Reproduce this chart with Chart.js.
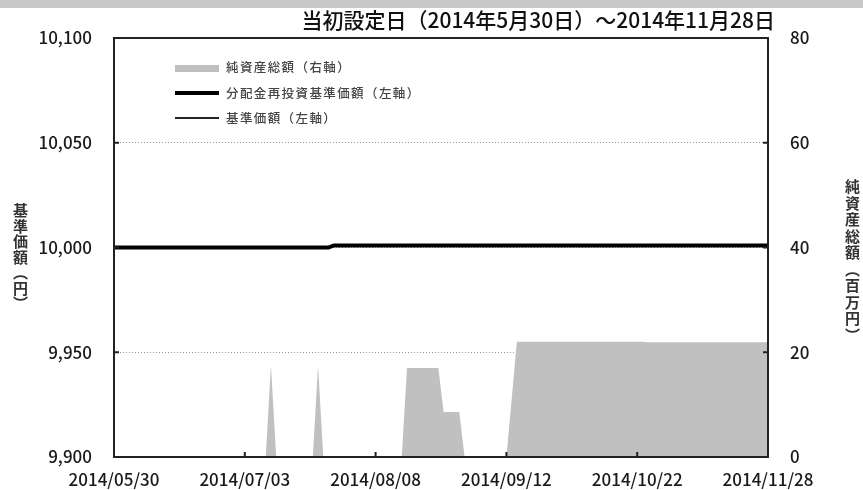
<!DOCTYPE html>
<html>
<head>
<meta charset="utf-8">
<script src="https://cdn.jsdelivr.net/npm/chart.js@4.4.1/dist/chart.umd.min.js"></script>
<style>
  body { margin: 0; background: #fff; }
  #wrap { position: relative; width: 863px; height: 490px; font-family: 'Noto Sans CJK JP', sans-serif; color: #222; }
  #band { position: absolute; left: 0; top: 0; width: 863px; height: 8px; background: #c8c8c8; }
  #title { position: absolute; right: 88px; top: 6px; font-size: 21px; line-height: 26px; font-weight: 500; white-space: nowrap; color: #111; }
  .vt { position: absolute; writing-mode: vertical-rl; text-orientation: upright; font-size: 15px; font-weight: bold; color: #333; }
  .sw { position: absolute; left: 175px; width: 44px; }
  .lg { position: absolute; left: 226px; font-size: 12.5px; line-height: 14px; letter-spacing: 1.4px; font-weight: 500; color: #444; white-space: nowrap; }
</style>
</head>
<body>
<div id="wrap">
  <canvas id="chart" width="863" height="490"></canvas>
  <div id="band"></div>
  <div id="title">当初設定日（2014年5月30日）～2014年11月28日</div>
  <div class="vt" style="left:10px; top:203px; letter-spacing:0.5px;">基準価額（円）</div>
  <div class="vt" style="left:842px; top:179px; letter-spacing:1.5px;">純資産総額（百万円）</div>
  <div class="sw" style="top:65px; height:7px; background:#c0c0c0;"></div>
  <div class="lg" style="top:60px;">純資産総額（右軸）</div>
  <div class="sw" style="top:91px; height:4px; background:#000;"></div>
  <div class="lg" style="top:86px;">分配金再投資基準価額（左軸）</div>
  <div class="sw" style="top:117px; height:2px; background:#222;"></div>
  <div class="lg" style="top:111px;">基準価額（左軸）</div>
</div>
<script>
// trading days from 2014/05/30 to 2014/11/28, one value per day
const tickIndex = [0, 25, 50, 75, 100, 125];
const tickLabels = ['2014/05/30', '2014/07/03', '2014/08/08', '2014/09/12', '2014/10/22', '2014/11/28'];

// 純資産総額 (百万円)
const netAssets = [
  0, 0, 0, 0, 0, 0, 0, 0, 0, 0,
  0, 0, 0, 0, 0, 0, 0, 0, 0, 0,
  0, 0, 0, 0, 0, 0, 0, 0, 0, 0,
  17.5, 0, 0, 0, 0, 0, 0, 0, 0, 17.5,
  0, 0, 0, 0, 0, 0, 0, 0, 0, 0,
  0, 0, 0, 0, 0, 0, 17, 17, 17, 17,
  17, 17, 17, 8.6, 8.6, 8.6, 8.6, 0, 0, 0,
  0, 0, 0, 0, 0, 0, 11, 22, 22, 22,
  22, 22, 22, 22, 22, 22, 22, 22, 22, 22,
  22, 22, 22, 22, 22, 22, 22, 22, 22, 22,
  22, 22, 21.9, 21.9, 21.9, 21.9, 21.9, 21.9, 21.9, 21.9,
  21.9, 21.9, 21.9, 21.9, 21.9, 21.9, 21.9, 21.9, 21.9, 21.9,
  21.9, 21.9, 21.9, 21.9, 21.9, 21.9
];

// 分配金再投資基準価額 (円)
const reinvestPrice = [
  10000, 10000, 10000, 10000, 10000, 10000, 10000, 10000, 10000, 10000,
  10000, 10000, 10000, 10000, 10000, 10000, 10000, 10000, 10000, 10000,
  10000, 10000, 10000, 10000, 10000, 10000, 10000, 10000, 10000, 10000,
  10000, 10000, 10000, 10000, 10000, 10000, 10000, 10000, 10000, 10000,
  10000, 10000, 10001, 10001, 10001, 10001, 10001, 10001, 10001, 10001,
  10001, 10001, 10001, 10001, 10001, 10001, 10001, 10001, 10001, 10001,
  10001, 10001, 10001, 10001, 10001, 10001, 10001, 10001, 10001, 10001,
  10001, 10001, 10001, 10001, 10001, 10001, 10001, 10001, 10001, 10001,
  10001, 10001, 10001, 10001, 10001, 10001, 10001, 10001, 10001, 10001,
  10001, 10001, 10001, 10001, 10001, 10001, 10001, 10001, 10001, 10001,
  10001, 10001, 10001, 10001, 10001, 10001, 10001, 10001, 10001, 10001,
  10001, 10001, 10001, 10001, 10001, 10001, 10001, 10001, 10001, 10001,
  10001, 10001, 10001, 10001, 10001, 10001
];

// 基準価額 (円) - no distributions, same as above
const basePrice = [
  10000, 10000, 10000, 10000, 10000, 10000, 10000, 10000, 10000, 10000,
  10000, 10000, 10000, 10000, 10000, 10000, 10000, 10000, 10000, 10000,
  10000, 10000, 10000, 10000, 10000, 10000, 10000, 10000, 10000, 10000,
  10000, 10000, 10000, 10000, 10000, 10000, 10000, 10000, 10000, 10000,
  10000, 10000, 10001, 10001, 10001, 10001, 10001, 10001, 10001, 10001,
  10001, 10001, 10001, 10001, 10001, 10001, 10001, 10001, 10001, 10001,
  10001, 10001, 10001, 10001, 10001, 10001, 10001, 10001, 10001, 10001,
  10001, 10001, 10001, 10001, 10001, 10001, 10001, 10001, 10001, 10001,
  10001, 10001, 10001, 10001, 10001, 10001, 10001, 10001, 10001, 10001,
  10001, 10001, 10001, 10001, 10001, 10001, 10001, 10001, 10001, 10001,
  10001, 10001, 10001, 10001, 10001, 10001, 10001, 10001, 10001, 10001,
  10001, 10001, 10001, 10001, 10001, 10001, 10001, 10001, 10001, 10001,
  10001, 10001, 10001, 10001, 10001, 10001
];

const days = netAssets.map((v, i) => i);

Chart.defaults.font.family = "'Noto Sans CJK JP', sans-serif";
Chart.defaults.color = '#1a1a1a';

// frame + inward tick marks
const framePlugin = {
  id: 'frame',
  afterDraw(chart) {
    const { ctx, chartArea: a, scales } = chart;
    ctx.save();
    ctx.strokeStyle = '#222';
    ctx.lineWidth = 2;
    ctx.strokeRect(a.left, a.top, a.right - a.left, a.bottom - a.top);
    ctx.beginPath();
    tickIndex.forEach(v => {
      const x = scales.x.getPixelForValue(v);
      ctx.moveTo(x, a.bottom); ctx.lineTo(x, a.bottom - 5);
    });
    scales.y.ticks.forEach(t => {
      const y = scales.y.getPixelForValue(t.value);
      ctx.moveTo(a.left, y); ctx.lineTo(a.left + 5, y);
    });
    scales.y2.ticks.forEach(t => {
      const y = scales.y2.getPixelForValue(t.value);
      ctx.moveTo(a.right, y); ctx.lineTo(a.right - 5, y);
    });
    ctx.stroke();
    ctx.restore();
  }
};

new Chart(document.getElementById('chart'), {
  type: 'line',
  data: {
    labels: days,
    datasets: [
      { label: '分配金再投資基準価額（左軸）', data: reinvestPrice, yAxisID: 'y', borderColor: '#000', borderWidth: 4, pointRadius: 0, order: 1 },
      { label: '基準価額（左軸）', data: basePrice, yAxisID: 'y', borderColor: '#222', borderWidth: 2, pointRadius: 0, order: 2 },
      { label: '純資産総額（右軸）', data: netAssets, yAxisID: 'y2', borderWidth: 0, borderColor: 'rgba(0,0,0,0)', backgroundColor: '#c0c0c0', fill: 'origin', pointRadius: 0, order: 3 }
    ]
  },
  options: {
    responsive: false,
    animation: false,
    layout: { padding: { top: 38, left: 0, right: 0, bottom: 0 } },
    plugins: { legend: { display: false }, tooltip: { enabled: false } },
    scales: {
      x: {
        type: 'category',
        offset: false,
        grid: { display: false },
        border: { display: false },
        afterBuildTicks: s => { s.ticks = tickIndex.map(v => ({ value: v })); },
        afterFit: s => { s.height = 33; },
        ticks: {
          autoSkip: false, maxRotation: 0, padding: 4,
          font: { size: 17, weight: 500 },
          callback: v => tickLabels[tickIndex.indexOf(v)]
        }
      },
      y: {
        position: 'left',
        min: 9900, max: 10100,
        afterFit: s => { s.width = 114; },
        grid: { color: '#999', drawTicks: false },
        border: { display: false, dash: [1, 2] },
        ticks: { stepSize: 50, padding: 22, font: { size: 17, weight: 500 }, callback: v => v.toLocaleString('en-US') }
      },
      y2: {
        position: 'right',
        min: 0, max: 80,
        afterFit: s => { s.width = 95; },
        grid: { display: false, drawTicks: false },
        border: { display: false },
        ticks: { stepSize: 20, padding: 22, font: { size: 17, weight: 500 } }
      }
    }
  },
  plugins: [framePlugin]
});
</script>
</body>
</html>
